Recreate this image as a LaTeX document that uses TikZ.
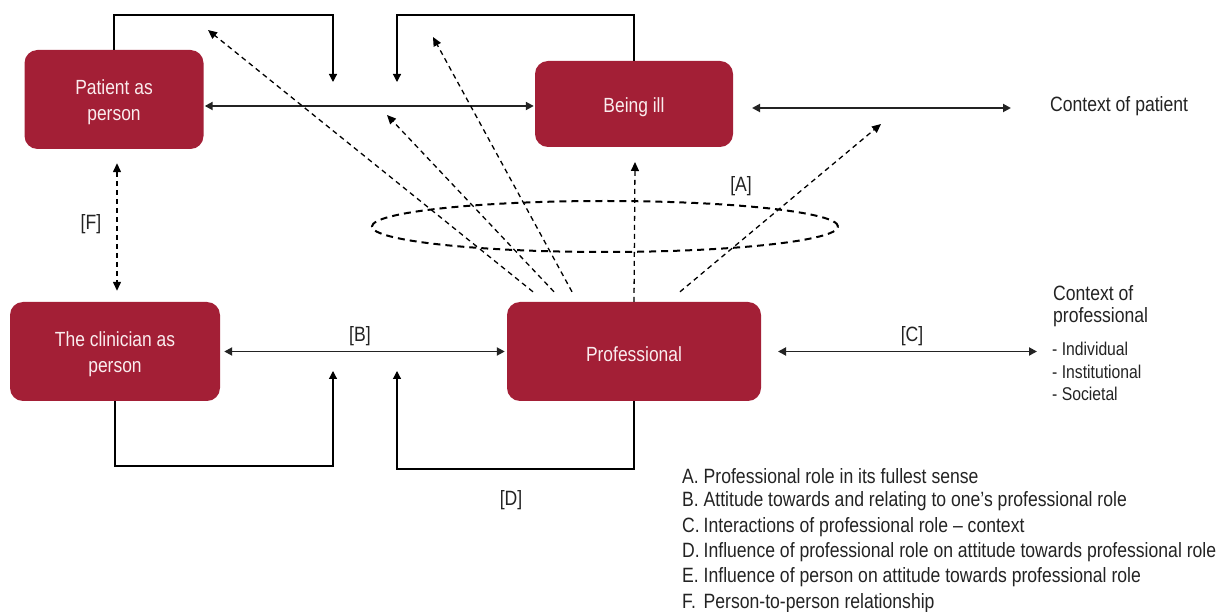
\documentclass[tikz,border=0pt]{standalone}
\usepackage{fontspec}
\setmainfont[FakeStretch=0.85]{Liberation Sans}
\usetikzlibrary{arrows.meta,shapes.geometric,calc}
\definecolor{boxred}{RGB}{163,31,54}
\definecolor{boxtext}{RGB}{250,236,238}
\definecolor{ink}{RGB}{35,35,35}
\newcommand{\upstrut}{\rule{0pt}{21pt}}
\newcommand{\lgitem}[1]{\makebox[21.5pt][l]{#1}}
\begin{document}
\begin{tikzpicture}[x=1pt,y=-1pt,
 box/.style={draw=none, fill=boxred, rounded corners=13pt, text=boxtext, align=center, font=\fontsize{20.5}{26}\selectfont, inner sep=0},
 lbl/.style={text=ink, font=\fontsize{20.7}{24}\selectfont, inner sep=0},
 small/.style={text=ink, font=\fontsize{18.5}{20}\selectfont, inner sep=0, anchor=west},
 legend/.style={lbl, anchor=west},
 loopline/.style={line width=1.2pt, draw=black, -{Triangle[length=8pt,width=8pt]}},
 dbl/.style={line width=1.9pt, draw=ink, {Triangle[length=8pt,width=8pt]}-{Triangle[length=8pt,width=8pt]}},
 dasharrow/.style={line width=1.3pt, draw=black, dash pattern=on 5pt off 4pt, -{Triangle[length=9pt,width=8pt]}},
 dashdbl/.style={line width=1.3pt, draw=black, dash pattern=on 5pt off 4pt, {Triangle[length=9pt,width=8pt]}-{Triangle[length=9pt,width=8pt]}},
]
\useasboundingbox (0,0) rectangle (1219,612);

% boxes
\node[box, minimum width=179pt, minimum height=99pt] (patient) at (114,99.5) {\upstrut Patient as\\person};
\node[box, minimum width=198pt, minimum height=86pt] (being) at (634,104) {\upstrut Being ill};
\node[box, minimum width=210pt, minimum height=99pt] (clin) at (115,351.5) {\upstrut The clinician as\\person};
\node[box, minimum width=254pt, minimum height=99pt] (prof) at (634,351.5) {\upstrut Professional};

% ellipse
\node[draw=black, line width=2pt, dash pattern=on 7pt off 5pt, ellipse, inner sep=0, minimum width=466pt, minimum height=51pt] (ell) at (605,226.5) {};

% texts
\node[lbl, anchor=west] (ctxp) at (1050,106) {Context of patient};
\node[lbl, anchor=west] (cp1) at (1053,293) {Context of};
\node[lbl, anchor=west] (cp2) at (1053,317) {professional};
\node[small] (cpi) at (1052,349) {- Individual};
\node[small] (cpn) at (1052,372) {- Institutional};
\node[small] (cps) at (1052,394) {- Societal};

\node[lbl] (labA) at (741,186) {[A]};
\node[lbl] (labB) at (360,336) {[B]};
\node[lbl] (labC) at (912,336) {[C]};
\node[lbl] (labD) at (511,500) {[D]};
\node[lbl] (labF) at (91,224) {[F]};

% legend
\node[legend] (la) at (682,476) {\lgitem{A.}Professional role in its fullest sense};
\node[legend] (lb) at (682,501.4) {\lgitem{B.}Attitude towards and relating to one’s professional role};
\node[legend] (lc) at (682,526.8) {\lgitem{C.}Interactions of professional role – context};
\node[legend] (ld) at (682,552.2) {\lgitem{D.}Influence of professional role on attitude towards professional role};
\node[legend] (le) at (682,577.6) {\lgitem{E.}Influence of person on attitude towards professional role};
\node[legend] (lf) at (682,603) {\lgitem{F.}Person-to-person relationship};

% coordinates for free ends
\coordinate (t1) at (333,82);
\coordinate (t2) at (397,82);
\coordinate (t3) at (333,371);
\coordinate (t4) at (397,371);
\coordinate (d1) at (208,30);
\coordinate (d2) at (387,115);
\coordinate (d3) at (433,37);
\coordinate (d4) at (635,162);
\coordinate (d5) at (881,124);
\coordinate (ce1) at (752,108);
\coordinate (ce2) at (1011,108);
\coordinate (cc1) at (778,351.5);
\coordinate (cc2) at (1037,351.5);

% solid connectors
\draw[dbl] ($(patient.east)+(1,6.5)$) -- ($(being.west)+(-1,2)$);
\draw[dbl] ($(clin.east)+(4,0)$) -- ($(prof.west)+(-2,0)$);
\draw[dbl] (ce1) -- (ce2);
\draw[dbl] (cc1) -- (cc2);

\draw[loopline] (patient.north) -- (patient.north |- 0,15) -| (t1);
\draw[loopline] (being.north) -- (being.north |- 0,15) -| (t2);
\draw[loopline] (clin.south) -- (clin.south |- 0,466) -| (t3);
\draw[loopline] (prof.south) -- (prof.south |- 0,469) -| (t4);

% dashed connectors
\draw[dasharrow] ($(prof.north)+(-101,-10)$) -- (d1);
\draw[dasharrow] ($(prof.north)+(-80,-10)$) -- (d2);
\draw[dasharrow] ($(prof.north)+(-62,-10)$) -- (d3);
\draw[dasharrow] (prof.north) -- (d4);
\draw[dasharrow] ($(prof.north)+(46,-10)$) -- (d5);
\draw[dashdbl] ($(patient.south)+(3,14)$) -- ($(clin.north)+(2,-11)$);
\end{tikzpicture}
\end{document}
